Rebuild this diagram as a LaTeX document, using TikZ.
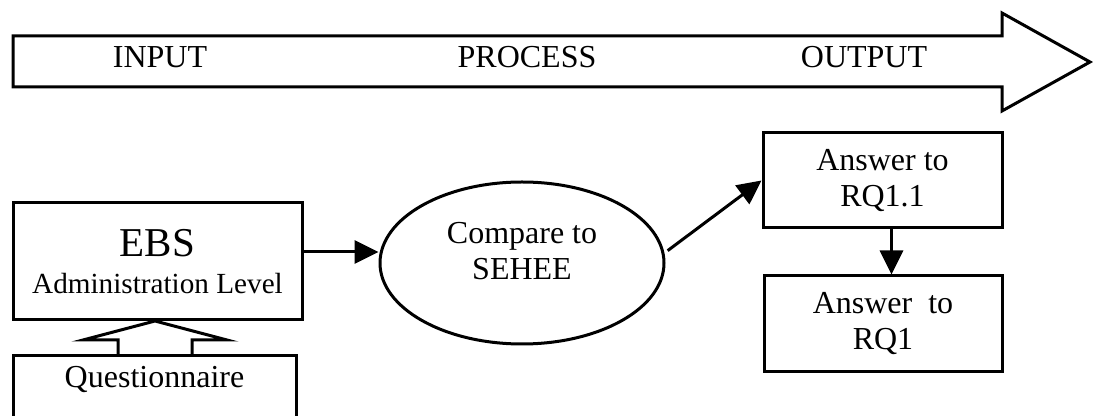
\documentclass[tikz,border=0pt]{standalone}
\usepackage{fontspec}
\setmainfont{Liberation Serif}
\usetikzlibrary{arrows.meta,shapes.geometric,calc}

\begin{document}
\begin{tikzpicture}[x=0.5pt,y=-0.5pt,line width=1.5pt,line join=miter,
  txt/.style={font=\fontsize{16}{18}\selectfont},
  box/.style={draw,rectangle,inner sep=0pt,align=center,txt},
  lbl/.style={txt,inner sep=0pt,anchor=base},
  arr/.style={-{Triangle[length=12pt,width=11.5pt]}}]
\clip (0,0) rectangle (1093,416);

% stage band: a wide block arrow
\draw (13,36) -- (1002,36) -- (1002,13) -- (1090,62) -- (1002,111)
      -- (1002,87) -- (13,87) -- cycle;
\node[lbl] (input)   at (160,68) {INPUT};
\node[lbl] (process) at (527,68) {PROCESS};
\node[lbl] (output)  at (864,68) {OUTPUT};

% boxes
\node[box,minimum width=144.5pt,minimum height=58.5pt,
      font=\fontsize{14.6}{18.5}\selectfont] (ebs) at (157.5,261.5)
      {{\fontsize{20.5}{24}\selectfont EBS}\\Administration Level};
\node[box,minimum width=141.5pt,minimum height=52pt] (qbox) at (154.5,408) {};
\node[lbl] (qtxt) at (154.5,388) {Questionnaire};

\node[draw,ellipse,inner sep=0pt,minimum width=142pt,minimum height=81pt] (cmp) at (522,263) {};
\node[txt,align=center,inner sep=0pt] (cmptxt) at ($(cmp.center)+(0,-12)$) {Compare to\\SEHEE};

\node[box,minimum width=119.5pt,minimum height=47.5pt] (r11) at (882.5,180.5) {Answer to\\RQ1.1};
\node[box,minimum width=119pt,minimum height=48pt] (r1) at (883,324) {Answer\ \ to\\RQ1};

% hollow arrow from the questionnaire up into the EBS box
\draw (118,356) -- (118,340) -- (83,340) -- (155,321) -- (227,340)
      -- (192,340) -- (192,356);

% connectors
\draw[arr] ([yshift=4.75pt]ebs.east) -- ([yshift=4.75pt]ebs.east -| cmp.west);
\draw[arr,shorten <=2pt] (cmp.4) -- (r11.west);
\draw[arr] ([xshift=4.5pt]r11.south) -- ([xshift=4.5pt]r11.south |- r1.north);
\end{tikzpicture}
\end{document}
